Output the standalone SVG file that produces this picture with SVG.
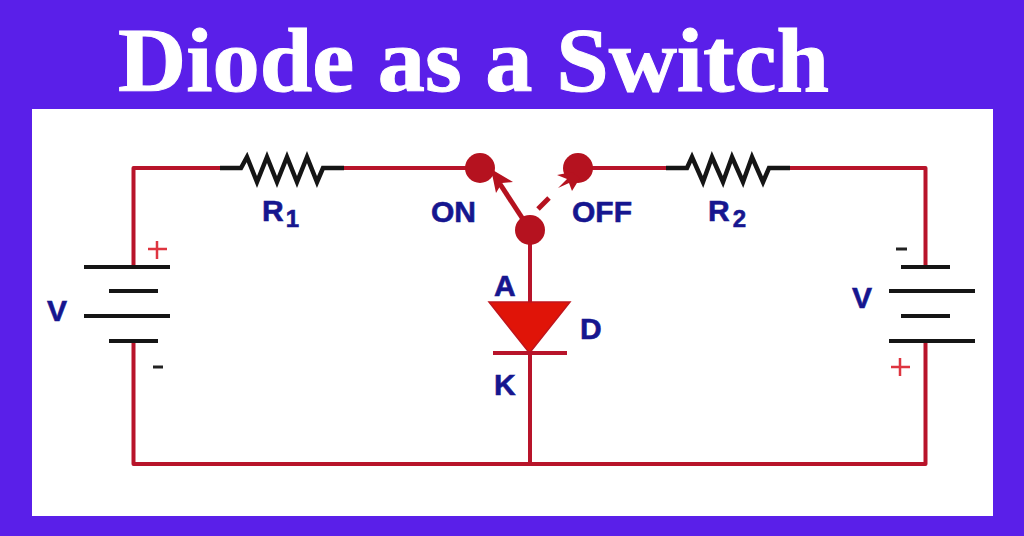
<svg xmlns="http://www.w3.org/2000/svg" width="1024" height="536" viewBox="0 0 1024 536">
<style>
.w{fill:none;stroke:#b8142a;stroke-width:4;stroke-linejoin:round}
.a{fill:none;stroke:#b5121f;stroke-width:5}
.b{fill:none;stroke:#151515;stroke-width:4.500;stroke-linejoin:miter}
.c{fill:none;stroke:#151515;stroke-width:4}
.p{fill:none;stroke:#de3540;stroke-width:2.500}
.m{fill:none;stroke:#222;stroke-width:3}
.d{fill:#b5121f}
.l{font-family:"Liberation Sans",Arial,sans-serif;font-weight:bold;font-size:30px;fill:#16168f;stroke:#16168f;stroke-width:.6}
.s{font-size:24px}
.t{font-family:"Liberation Serif","Times New Roman",serif;font-weight:bold;font-size:92px;fill:#fff;stroke:#fff;stroke-width:1}
</style>
<rect width="1024" height="536" fill="#5a1fe9"/>
<rect x="32" y="109" width="961" height="407" fill="#fff"/>
<text id="title" class="t" x="118" y="91" textLength="711" lengthAdjust="spacingAndGlyphs">Diode as a Switch</text>
<g id="connectors">
<path class="w" d="M220 168H133.500V267M133.500 341V464H925.500V341M925.500 267V168H790M666 168H578M480 168H343"/>
<path class="w" d="M530 230V464"/>
<path class="a" d="M530 230L500 184"/>
<path class="a" d="M538 209L549 198"/>
</g>
<g id="R1"><path class="b" d="M220 168H241L247 157L257 182L267 157L277 182L287 157L297 182L307 157L317 182L323 168H344"/><text class="l" x="262" y="221">R<tspan class="s" dx="2" dy="6">1</tspan></text></g>
<g id="R2"><path class="b" d="M666 168H687L692 157L703 182L712 157L723 182L732 157L743 182L752 157L763 182L769 168H790"/><text class="l" x="708" y="221">R<tspan class="s" dx="3" dy="6">2</tspan></text></g>
<g id="battery-left"><path class="c" d="M84 267H170M109 291H158M84 316H170M109 341H158"/><text class="l" x="47" y="321">V</text><path class="p" d="M148 249H167M157 241V259"/><path class="m" d="M153 367H163"/></g>
<g id="battery-right"><path class="c" d="M901 267H950M889 291H975M901 316H950M889 341H975"/><text class="l" x="852" y="308">V</text><path class="p" d="M891 367H910M900 358V376"/><path class="m" d="M896 249H907"/></g>
<g id="switch-on"><circle class="d" cx="480" cy="168" r="15"/><path class="d" d="M491 169L513 182L502 183L496 193Z"/><text class="l" x="431" y="222">ON</text></g>
<g id="switch-off"><circle class="d" cx="578" cy="168" r="15"/><path class="d" d="M572 172L557 175L567 179L558 188L569 183L572 191L580 178Z"/><text class="l" x="572" y="222">OFF</text></g>
<g id="switch-common"><circle class="d" cx="530" cy="230" r="15"/></g>
<g id="diode"><path d="M489 302H570L529.500 353Z" fill="#e01408" stroke="#c0141c" stroke-width="1.500"/><path class="w" d="M493 353H567"/><text class="l" x="494" y="296">A</text><text class="l" x="580" y="339">D</text><text class="l" x="494" y="395">K</text></g>
</svg>
